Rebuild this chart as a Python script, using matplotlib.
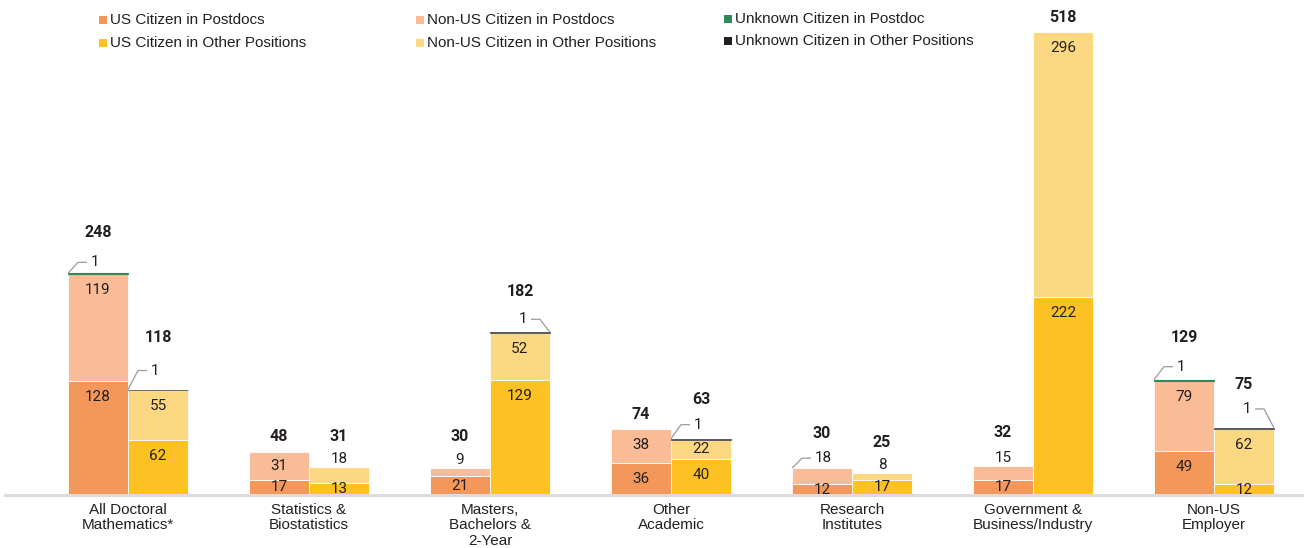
import matplotlib
matplotlib.use("Agg")
import matplotlib.pyplot as plt
from matplotlib.patches import Rectangle
import numpy as np

# --- donnees ---
categories = ["All Doctoral\nMathematics*", "Statistics &\nBiostatistics", "Masters,\nBachelors &\n2-Year",
              "Other\nAcademic", "Research\nInstitutes", "Government &\nBusiness/Industry", "Non-US\nEmployer"]
us_postdoc = [128, 17, 21, 36, 12, 17, 49]
nonus_postdoc = [119, 31, 9, 38, 18, 15, 79]
unk_postdoc = [1, 0, 0, 0, 0, 0, 1]
us_other = [62, 13, 129, 40, 17, 222, 12]
nonus_other = [55, 18, 52, 22, 8, 296, 62]
unk_other = [1, 0, 1, 1, 0, 0, 1]

legend_labels = ["US Citizen in Postdocs", "US Citizen in Other Positions",
                 "Non-US Citizen in Postdocs", "Non-US Citizen in Other Positions",
                 "Unknown Citizen in Postdoc", "Unknown Citizen in Other Positions"]

# --- style ---
c_us_pd, c_nus_pd, c_unk_pd = "#F4975A", "#F9BC96", "#2E8B57"
c_us_ot, c_nus_ot, c_unk_ot = "#FDC124", "#FDD882", "#231F20"
num_font = ["Roboto", "DejaVu Sans"]
txt_font = ["Liberation Sans", "DejaVu Sans"]

W, H = 1304, 548
fig = plt.figure(figsize=(W / 100, H / 100), dpi=100)
ax_l, ax_b = 5, 53
ax = fig.add_axes([ax_l / W, ax_b / H, 1 - ax_l / W, (H - ax_b) / H])

px_x = 181.0   # pixels par groupe
px_y = 0.894   # pixels par unite
ax.set_xlim((ax_l - 128) / px_x, (W - 128) / px_x)
ax.set_ylim(0, (H - ax_b) / px_y)
w = 60 / px_x

def dx(p):
    return p / px_x

def dy(p):
    return p / px_y

x = np.arange(len(categories))
xp = x - w / 2
xo = x + w / 2

us_pd = np.array(us_postdoc); nus_pd = np.array(nonus_postdoc); uk_pd = np.array(unk_postdoc)
us_ot = np.array(us_other); nus_ot = np.array(nonus_other); uk_ot = np.array(unk_other)

kw = dict(width=w, linewidth=0.6, edgecolor="white")
ax.bar(xp, us_pd, color=c_us_pd, **kw)
ax.bar(xp, nus_pd, bottom=us_pd, color=c_nus_pd, **kw)
ax.bar(xo, us_ot, color=c_us_ot, **kw)
ax.bar(xo, nus_ot, bottom=us_ot, color=c_nus_ot, **kw)
# inconnus : seulement les valeurs non nulles
m = uk_pd > 0
ax.bar(xp[m], uk_pd[m], bottom=(us_pd + nus_pd)[m], width=w, color=c_unk_pd, linewidth=0.8, edgecolor=c_unk_pd)
m = uk_ot > 0
ax.bar(xo[m], uk_ot[m], bottom=(us_ot + nus_ot)[m], width=w, color=c_unk_ot, linewidth=0.6, edgecolor="#555555")

lab = dict(va="center", fontsize=11, family=num_font, color="#231F20")

def seg_label(xc, bottom, val, is_top):
    top = bottom + val
    if val == 0:
        return
    if is_top and val < 20:
        ax.text(xc, top + dy(8), str(val), ha="center", **lab)
    else:
        # pres du haut pour les grands segments, au centre pour les petits
        yc = max(top - dy(16), bottom + val / 2)
        ax.text(xc, yc, str(val), ha="center", **lab)

for i in range(len(categories)):
    seg_label(xp[i], 0, us_pd[i], False)
    if i != 4:
        seg_label(xp[i], us_pd[i], nus_pd[i], True)
    seg_label(xo[i], 0, us_ot[i], False)
    seg_label(xo[i], us_ot[i], nus_ot[i], True)

# etiquettes avec trait de rappel
def leader(xc, top, side, rise, txt):
    # side = -1 : coin gauche, +1 : coin droit
    x0 = xc + side * w / 2
    x1 = x0 - side * dx(10)
    x2 = x1 - side * dx(9)
    y1 = top + dy(rise)
    ax.plot([x0, x1, x2], [top, y1, y1], color="#9a9a9a", lw=0.9, solid_capstyle="butt")
    ax.text(x2 - side * dx(4), y1, txt, ha="left" if side < 0 else "right", **lab)

tot_pd = us_pd + nus_pd + uk_pd
tot_ot = us_ot + nus_ot + uk_ot
leader(xp[0], tot_pd[0], -1, 11, "1")
leader(xo[0], tot_ot[0], -1, 19, "1")
leader(xo[2], tot_ot[2], 1, 13, "1")
leader(xo[3], tot_ot[3], -1, 14, "1")
leader(xp[6], tot_pd[6], -1, 13, "1")
leader(xo[6], tot_ot[6], 1, 19, "1")
leader(xp[4], tot_pd[4], -1, 10, str(nus_pd[4]))

# totaux
off_pd = [41, 16, 32, 14, 35, 34, 42]
off_ot = [52, 31, 41, 39, 30, 14, 43]
tot = dict(ha="center", va="center", fontsize=11.5, fontweight="bold", family=num_font, color="#231F20")
for i in range(len(categories)):
    ax.text(xp[i], tot_pd[i] + dy(off_pd[i]), str(tot_pd[i]), **tot)
    ax.text(xo[i], tot_ot[i] + dy(off_ot[i]), str(tot_ot[i]), **tot)

# axes
for s in ["top", "right", "left"]:
    ax.spines[s].set_visible(False)
ax.spines["bottom"].set_color("#dcdcdc")
ax.spines["bottom"].set_linewidth(2.2)
ax.set_yticks([])
ax.set_xticks(x)
ax.set_xticklabels(categories, family=txt_font, fontsize=11, color="#231F20", linespacing=1.1)
ax.tick_params(axis="x", length=0, pad=6)

# legende
leg_cols = [c_us_pd, c_us_ot, c_nus_pd, c_nus_ot, c_unk_pd, c_unk_ot]
col_x = [103, 103, 420, 420, 728, 728]
row_y = [20, 43, 20, 43, 19, 41]
for lbl, col, lx, ly in zip(legend_labels, leg_cols, col_x, row_y):
    s = 8
    fig.add_artist(Rectangle(((lx - s / 2) / W, 1 - (ly + s / 2) / H), s / W, s / H,
                             transform=fig.transFigure, color=col, lw=0))
    fig.text((lx + 7) / W, 1 - ly / H, lbl, ha="left", va="center", family=txt_font,
             fontsize=11, color="#231F20")

fig.savefig("out.png", dpi=100)
